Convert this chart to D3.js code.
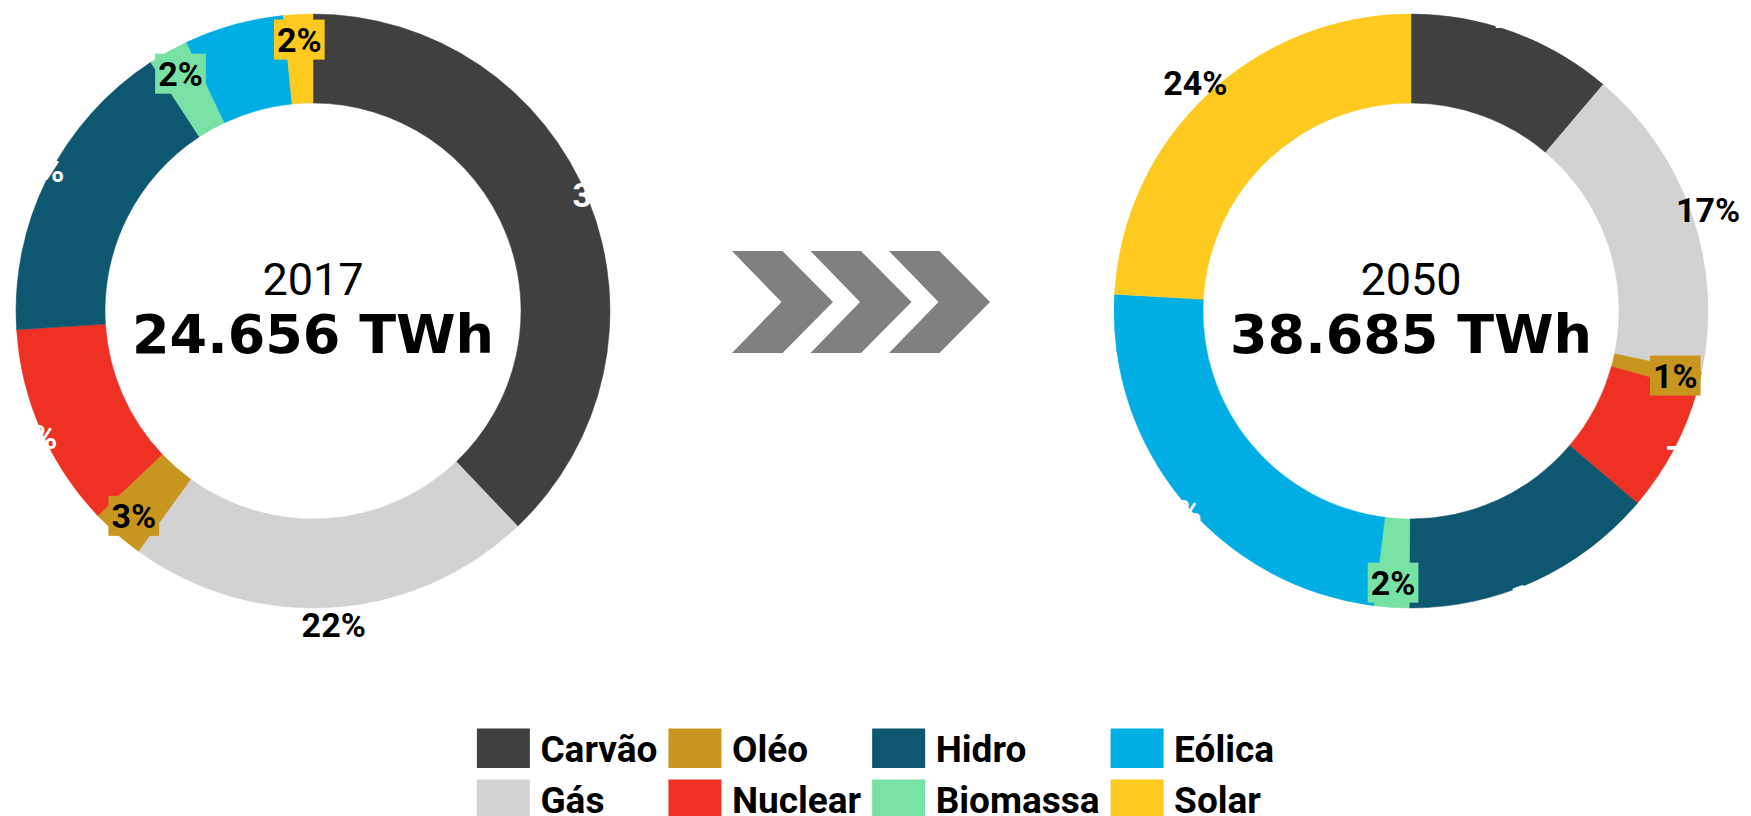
<!DOCTYPE html>
<html lang="pt">

<head>
    <meta charset="UTF-8">
    <title>Matriz elétrica 2017 x 2050</title>
    <style>
        body {
            margin: 0;
            background-color: #fff;
        }

        svg {
            display: block;
        }

        .pct {
            font-family: Roboto, 'Liberation Sans', sans-serif;
            font-weight: bold;
            font-size: 34px;
        }

        .year {
            font-family: Roboto, 'Liberation Sans', sans-serif;
            font-size: 45px;
        }

        .total {
            font-family: 'DejaVu Sans', sans-serif;
            font-weight: bold;
            font-size: 54px;
        }

        .legend text {
            font-family: Roboto, 'Liberation Sans', sans-serif;
            font-weight: bold;
            font-size: 37px;
        }
    </style>
    <script src="https://d3js.org/d3.v7.min.js"></script>
</head>

<body>
    <div id="chart"></div>
    <script>
        // data
        const categories = ["Carvão", "Gás", "Oléo", "Nuclear", "Hidro", "Biomassa", "Eólica", "Solar"];
        const colors = ["#404040", "#d2d2d2", "#c8961f", "#ef3124", "#0e5771", "#78e2a5", "#00aee4", "#ffca1f"];
        const whiteLabel = [true, false, false, true, true, false, true, false];
        const values2017 = [37.9, 22.1, 2.9, 11.1, 16.8, 2.2, 5.4, 1.6];
        const values2050 = [11.2, 17.1, 1.0, 6.9, 13.9, 1.9, 23.9, 24.1];
        const years = ["2017", "2050"];
        const totals = ["24.656 TWh", "38.685 TWh"];

        const width = 1751;
        const height = 816;

        const outerR = 297;
        const innerR = 208;
        const smallSlice = 3.5;

        const svg = d3.select("#chart").append("svg")
            .attr("width", width)
            .attr("height", height);

        const color = d3.scaleOrdinal().domain(categories).range(colors);

        const pie = d3.pie().sort(null).value(d => d.value);
        const arc = d3.arc().innerRadius(innerR).outerRadius(outerR);
        const labelArcOut = d3.arc().innerRadius(314).outerRadius(314);
        const labelArcIn = d3.arc().innerRadius(272).outerRadius(272);

        const donuts = [
            { cx: 313, cy: 311, year: years[0], total: totals[0], values: values2017 },
            { cx: 1411, cy: 311, year: years[1], total: totals[1], values: values2050 }
        ];

        donuts.forEach(dn => {
            const rows = categories.map((c, i) => ({ name: c, value: dn.values[i], white: whiteLabel[i] }));
            const arcs = pie(rows);

            const g = svg.append("g")
                .attr("transform", `translate(${dn.cx},${dn.cy})`);

            g.selectAll("path.slice")
                .data(arcs)
                .join("path")
                .attr("class", "slice")
                .attr("d", arc)
                .attr("fill", d => color(d.data.name))
                .attr("stroke", d => color(d.data.name))
                .attr("stroke-width", 0.5);

            const labels = g.selectAll("g.lbl")
                .data(arcs)
                .join("g")
                .attr("class", "lbl")
                .attr("transform", d => {
                    const p = d.data.value < smallSlice ? labelArcIn.centroid(d) : labelArcOut.centroid(d);
                    return `translate(${p[0]},${p[1]})`;
                });

            labels.append("text")
                .attr("class", "pct")
                .attr("text-anchor", "middle")
                .attr("dy", "0.36em")
                .attr("fill", d => d.data.white ? "#fff" : "#000")
                .text(d => Math.round(d.data.value) + "%");

            // small slices get a box in the slice colour behind the label
            labels.filter(d => d.data.value < smallSlice).each(function (d) {
                const grp = d3.select(this);
                const bb = grp.select("text").node().getBBox();
                grp.insert("rect", "text")
                    .attr("x", bb.x - 3)
                    .attr("y", bb.y)
                    .attr("width", bb.width + 6)
                    .attr("height", bb.height)
                    .attr("fill", color(d.data.name));
            });

            g.append("text")
                .attr("class", "year")
                .attr("text-anchor", "middle")
                .attr("y", -16)
                .text(dn.year);

            g.append("text")
                .attr("class", "total")
                .attr("text-anchor", "middle")
                .attr("y", 42)
                .text(dn.total);
        });

        // chevrons between the two donuts
        const chevronCount = 3;
        const chevX = d3.scaleLinear().domain([0, chevronCount - 1]).range([732, 889]);
        const chevW = 101, chevH = 102, chevTop = 251;
        d3.range(chevronCount).forEach(i => {
            const x = chevX(i);
            const p = d3.path();
            p.moveTo(x, chevTop);
            p.lineTo(x + chevW / 2, chevTop);
            p.lineTo(x + chevW, chevTop + chevH / 2);
            p.lineTo(x + chevW / 2, chevTop + chevH);
            p.lineTo(x, chevTop + chevH);
            p.lineTo(x + chevW / 2 - 1, chevTop + chevH / 2);
            p.closePath();
            svg.append("path")
                .attr("d", p.toString())
                .attr("fill", "#808080");
        });

        // legend, 4 columns x 2 rows
        const legend = svg.append("g").attr("class", "legend");
        const swW = 53, swH = 39.5, textGap = 10.5, colGap = 11;
        const rowY = [728.5, 779.5];
        const items = legend.selectAll("g.item")
            .data(categories)
            .join("g")
            .attr("class", "item");

        items.append("rect")
            .attr("width", swW)
            .attr("height", swH)
            .attr("fill", d => color(d));

        items.append("text")
            .attr("x", swW + textGap)
            .attr("y", 33)
            .text(d => d);

        const colWidths = d3.range(4).map(c => {
            return d3.max(items.filter((d, i) => Math.floor(i / 2) === c).select("text").nodes(),
                n => n.getComputedTextLength());
        });
        const colX = [];
        let acc = 0;
        colWidths.forEach((w, c) => {
            colX.push(acc);
            acc += swW + textGap + w + (c < 3 ? colGap : 0);
        });
        const legendLeft = width / 2 - acc / 2;

        items.attr("transform", (d, i) => `translate(${legendLeft + colX[Math.floor(i / 2)]},${rowY[i % 2]})`);
    </script>
</body>

</html>
